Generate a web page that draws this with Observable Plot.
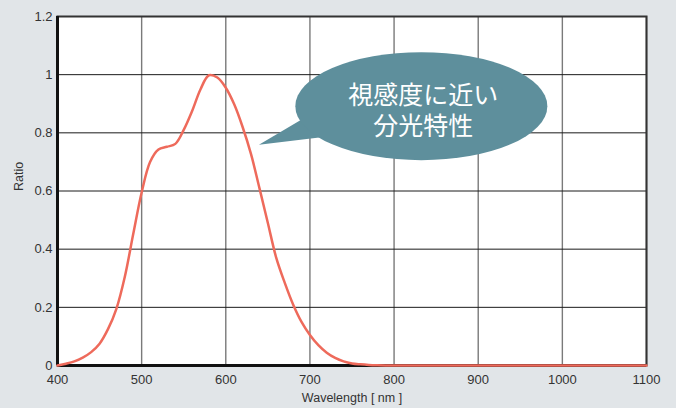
<!DOCTYPE html>
<html><head><meta charset="utf-8">
<script src="https://cdn.jsdelivr.net/npm/d3@7"></script>
<script src="https://cdn.jsdelivr.net/npm/@observablehq/plot@0.6"></script>
<style>
html,body{margin:0;padding:0;background:#e1e5e8;}
</style></head><body><div id="chart"></div>
<script>
const wavelength = [400,410,420,430,440,450,460,470,480,490,500,510,520,530,540,550,560,570,580,590,600,610,620,630,640,650,660,670,680,690,700,710,720,730,740,750,760,770,780,800,850,900,950,1000,1050,1100];
const ratio = [0,0.006,0.014,0.027,0.046,0.075,0.125,0.195,0.305,0.452,0.595,0.7,0.743,0.752,0.762,0.81,0.875,0.95,0.998,0.99,0.955,0.898,0.82,0.727,0.61,0.49,0.37,0.285,0.21,0.15,0.105,0.07,0.044,0.026,0.014,0.007,0.004,0.002,0.001,0,0,0,0,0,0,0];
const xTicks = [400,500,600,700,800,900,1000,1100];
const yTicks = [0,0.2,0.4,0.6,0.8,1,1.2];
const xLabel = "Wavelength [ nm ]";
const yLabel = "Ratio";
const noteLines = ["視感度に近い","分光特性"];
const noteCenter = {w: 833, r: 0.89};
const noteTip = {w: 640, r: 0.757};

const data = wavelength.map((w, i) => ({w, r: ratio[i]}));
const fmt = d3.format("~g");

const plot = Plot.plot({
  width: 676, height: 408,
  marginLeft: 57, marginRight: 30, marginTop: 16, marginBottom: 43,
  style: {background: "#e1e5e8", fontFamily: "'Liberation Sans', Arial, sans-serif", fontSize: "13px", color: "#333"},
  x: {domain: [400, 1100], label: null},
  y: {domain: [0, 1.2], label: null},
  marks: [
    Plot.frame({fill: "white", stroke: null}),
    Plot.gridX(xTicks, {stroke: "#7a7a7a", strokeOpacity: 1, strokeWidth: 1.4}),
    Plot.gridY(yTicks, {stroke: "#1a1a1a", strokeOpacity: 1, strokeWidth: 1}),
    Plot.frame({stroke: "#333", strokeWidth: 2}),
    Plot.ruleX([400], {stroke: "#111", strokeWidth: 3}),
    Plot.ruleY([0], {stroke: "#111", strokeWidth: 3}),
    Plot.axisX(xTicks, {tickSize: 0, tickPadding: 9, tickFormat: fmt, label: null, fill: "#333", fontSize: 13}),
    Plot.axisY(yTicks, {tickSize: 0, tickPadding: 5, tickFormat: fmt, label: null, fill: "#333", fontSize: 13}),
    Plot.text([xLabel], {frameAnchor: "bottom", dy: 36, fill: "#333", fontSize: 12.5}),
    Plot.text([yLabel], {frameAnchor: "left", dx: -39, rotate: -90, fill: "#333", fontSize: 12.5}),
    Plot.line(data, {x: "w", y: "r", stroke: "#ee6a5b", strokeWidth: 2.5, curve: "catmull-rom"})
  ]
});

const sx = plot.scale("x"), sy = plot.scale("y");
const cx = sx.apply(noteCenter.w), cy = sy.apply(noteCenter.r);
const tx = sx.apply(noteTip.w), ty = sy.apply(noteTip.r);
const g = d3.select(plot).append("g");
const bubble = "#5e8f9c";
g.append("path").attr("d", `M${tx},${ty}L${cx-121},${cy+14}L${cx-100},${cy+31}Z`).attr("fill", bubble);
g.append("ellipse").attr("cx", cx).attr("cy", cy).attr("rx", 126).attr("ry", 54).attr("fill", bubble);
const note = g.append("text")
  .attr("text-anchor", "middle")
  .attr("fill", "white").attr("font-family", "'Noto Sans CJK JP', sans-serif")
  .attr("font-size", 25);
noteLines.forEach((t, i) => {
  note.append("tspan").attr("x", cx + 2).attr("y", cy - 2 + i * 31).text(t);
});

document.getElementById("chart").appendChild(plot);
</script></body></html>
